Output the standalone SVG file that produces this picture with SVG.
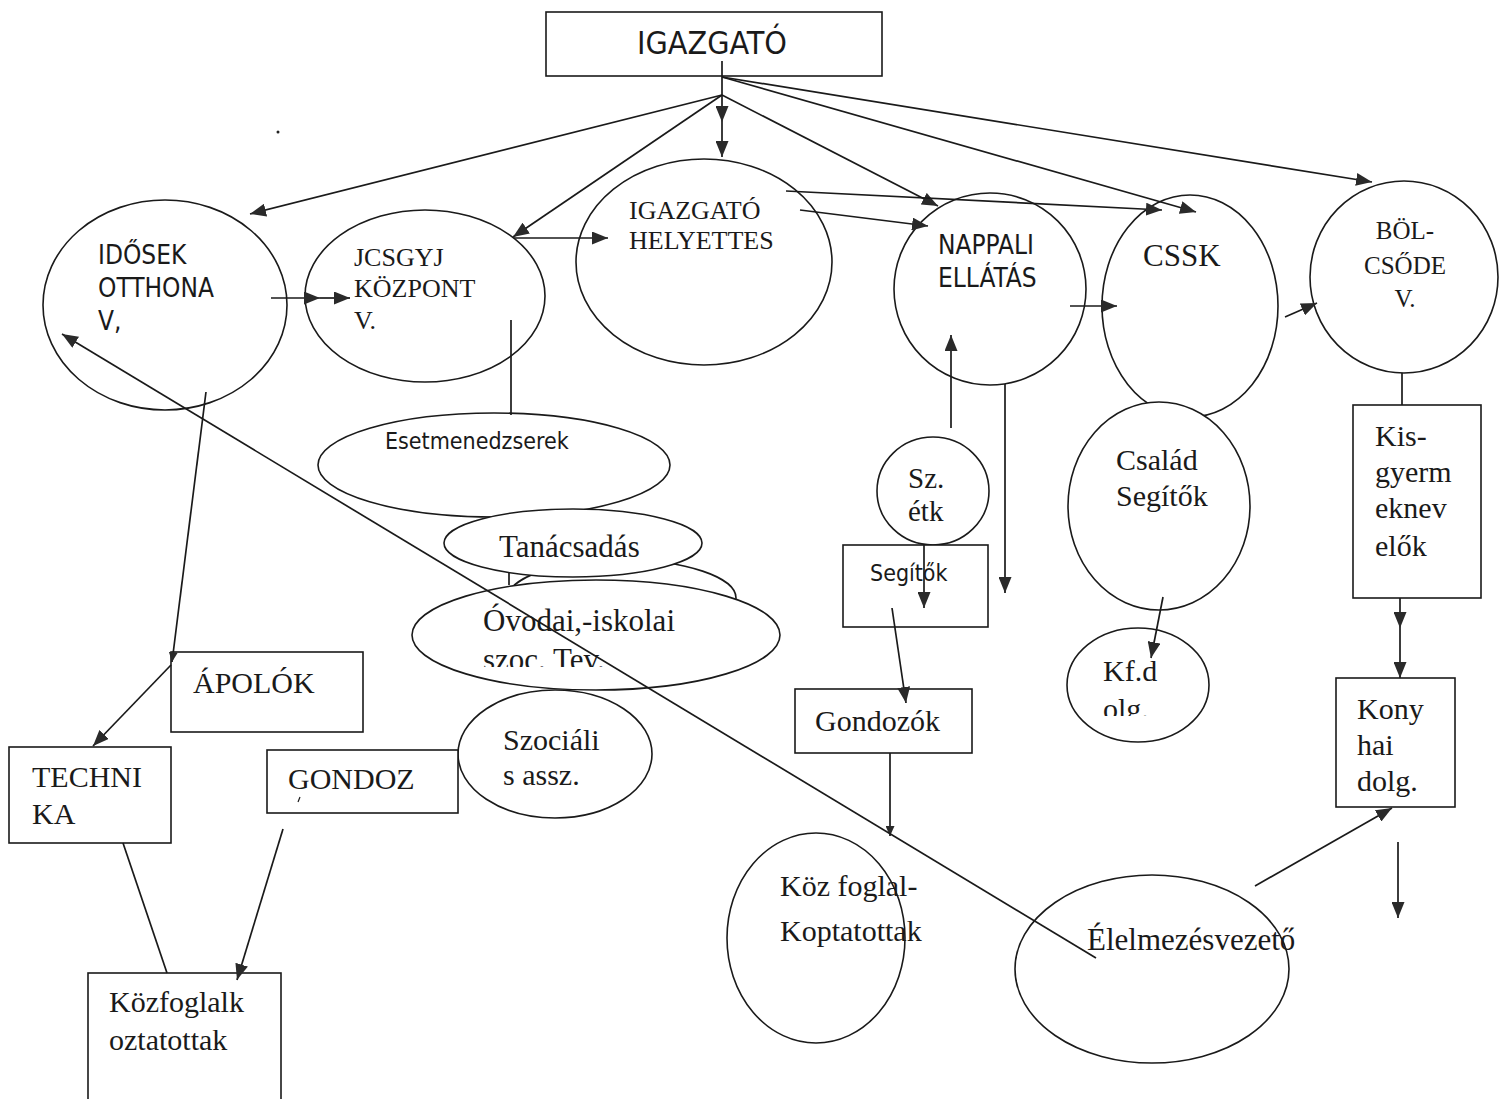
<svg xmlns="http://www.w3.org/2000/svg" width="1499" height="1099" viewBox="0 0 1499 1099">
<style>
.n{fill:#fff;stroke:#1a1a1a;stroke-width:1.6}
.c line{stroke:#1a1a1a;stroke-width:1.7;fill:none}
.a{marker-end:url(#ah)}
.s{marker-end:url(#ahs)}
.sf{font-family:"DejaVu Sans Condensed","DejaVu Sans",sans-serif;font-stretch:condensed;fill:#1a1a1a}
.rf{font-family:"Liberation Serif","Times New Roman",serif;fill:#1a1a1a}
</style>
<defs>
<marker id="ah" markerUnits="userSpaceOnUse" markerWidth="17" markerHeight="13" refX="16" refY="6.5" orient="auto"><path d="M0,0 L16,6.5 L0,13 z" fill="#2a2a2a"/></marker>
<marker id="ahs" markerUnits="userSpaceOnUse" markerWidth="11" markerHeight="9" refX="10" refY="4.5" orient="auto"><path d="M0,0 L10,4.5 L0,9 z" fill="#2a2a2a"/></marker>
<clipPath id="clipOv"><rect x="400" y="570" width="400" height="97"/></clipPath>
<clipPath id="clipKf"><rect x="1060" y="620" width="160" height="96"/></clipPath>
</defs>
<rect width="1499" height="1099" fill="#fff"/>
<circle cx="278" cy="132" r="1.5" fill="#222"/>

<g id="igazgato"><rect class="n" x="546" y="12" width="336" height="64"/><text class="sf" x="637" y="54" font-size="32">IGAZGATÓ</text></g>
<g id="idosek"><ellipse class="n" cx="165" cy="305" rx="122" ry="105"/><text class="sf" font-size="26"><tspan x="98" y="264">IDŐSEK</tspan><tspan x="98" y="297">OTTHONA</tspan><tspan x="98" y="330">V,</tspan></text></g>
<g id="jcsgyj"><ellipse class="n" cx="425" cy="296" rx="120" ry="86"/><text class="rf" font-size="26"><tspan x="354" y="266">JCSGYJ</tspan><tspan x="354" y="297">KÖZPONT</tspan><tspan x="354" y="329">V.</tspan></text></g>
<g id="helyettes"><ellipse class="n" cx="704" cy="262" rx="128" ry="103"/><text class="rf" font-size="26"><tspan x="629" y="219">IGAZGATÓ</tspan><tspan x="629" y="249">HELYETTES</tspan></text></g>
<g id="nappali"><ellipse class="n" cx="990" cy="289" rx="96" ry="96"/><text class="sf" font-size="26"><tspan x="938" y="254">NAPPALI</tspan><tspan x="938" y="287">ELLÁTÁS</tspan></text></g>
<g id="cssk"><ellipse class="n" cx="1190" cy="306" rx="88" ry="111"/><text class="rf" x="1143" y="266" font-size="31">CSSK</text></g>
<g id="bolcsode"><ellipse class="n" cx="1404" cy="277" rx="94" ry="96"/><text class="rf" font-size="25" text-anchor="middle"><tspan x="1405" y="239">BÖL-</tspan><tspan x="1405" y="274">CSŐDE</tspan><tspan x="1405" y="307">V.</tspan></text></g>
<g id="csalad"><ellipse class="n" cx="1159" cy="506" rx="91" ry="104"/><text class="rf" font-size="30"><tspan x="1116" y="470">Család</tspan><tspan x="1116" y="506">Segítők</tspan></text></g>
<g id="kfd"><ellipse class="n" cx="1138" cy="685" rx="71" ry="57"/><text class="rf" font-size="30" clip-path="url(#clipKf)"><tspan x="1103" y="681">Kf.d</tspan><tspan x="1103" y="719">olg.</tspan></text></g>
<g id="szetk"><ellipse class="n" cx="933" cy="491" rx="56" ry="54"/><text class="rf" font-size="29"><tspan x="908" y="488">Sz.</tspan><tspan x="908" y="521">étk</tspan></text></g>
<g id="segitok"><rect class="n" x="843" y="545" width="145" height="82"/><text class="sf" x="870" y="581" font-size="23">Segítők</text></g>
<g id="esetmenedzserek"><ellipse class="n" cx="494" cy="465" rx="176" ry="52"/><text class="sf" x="385" y="449" font-size="23">Esetmenedzserek</text></g>
<g id="rejtett"><ellipse class="n" cx="622" cy="598" rx="114" ry="38"/></g>
<g id="tanacsadas"><ellipse class="n" cx="573" cy="543" rx="129" ry="34"/><text class="rf" x="499" y="557" font-size="31">Tanácsadás</text></g>
<g id="ovodai"><ellipse class="n" cx="596" cy="635" rx="184" ry="55"/><text class="rf" font-size="31" clip-path="url(#clipOv)"><tspan x="483" y="631">Óvodai,-iskolai</tspan><tspan x="483" y="670">szoc. Tev.</tspan></text></g>
<g id="szocialis"><ellipse class="n" cx="555" cy="754" rx="97" ry="64"/><text class="rf" font-size="30"><tspan x="503" y="750">Szociáli</tspan><tspan x="503" y="785">s assz.</tspan></text></g>
<g id="gondozok"><rect class="n" x="795" y="689" width="177" height="64"/><text class="rf" x="815" y="731" font-size="30">Gondozók</text></g>
<g id="kozfoglal"><ellipse class="n" cx="816" cy="938" rx="89" ry="105"/><text class="rf" font-size="30"><tspan x="780" y="896">Köz foglal-</tspan><tspan x="780" y="941">Koptatottak</tspan></text></g>
<g id="elelmezes"><ellipse class="n" cx="1152" cy="969" rx="137" ry="94"/><text class="rf" x="1087" y="950" font-size="31">Élelmezésvezető</text></g>
<g id="kisgyermek"><rect class="n" x="1353" y="405" width="128" height="193"/><text class="rf" font-size="30"><tspan x="1375" y="446">Kis-</tspan><tspan x="1375" y="482">gyerm</tspan><tspan x="1375" y="518">eknev</tspan><tspan x="1375" y="556">elők</tspan></text></g>
<g id="konyhai"><rect class="n" x="1336" y="678" width="119" height="129"/><text class="rf" font-size="30"><tspan x="1357" y="719">Kony</tspan><tspan x="1357" y="755">hai</tspan><tspan x="1357" y="791">dolg.</tspan></text></g>
<g id="apolok"><rect class="n" x="171" y="652" width="192" height="80"/><text class="rf" x="193" y="693" font-size="30">ÁPOLÓK</text></g>
<g id="technika"><rect class="n" x="9" y="747" width="162" height="96"/><text class="rf" font-size="30"><tspan x="32" y="787">TECHNI</tspan><tspan x="32" y="824">KA</tspan></text></g>
<g id="gondoz"><rect class="n" x="267" y="750" width="191" height="63"/><text class="rf" x="288" y="789" font-size="30">GONDOZ</text><line x1="300" y1="797" x2="298" y2="802" stroke="#1a1a1a" stroke-width="1.2"/></g>
<g id="kozfoglalkoztatottak"><rect class="n" x="88" y="973" width="193" height="140"/><text class="rf" font-size="30"><tspan x="109" y="1012">Közfoglalk</tspan><tspan x="109" y="1050">oztatottak</tspan></text></g>

<g id="connectors" class="c">
<line class="a" x1="722" y1="61" x2="722" y2="122"/>
<line class="a" x1="722" y1="122" x2="722" y2="157"/>
<line class="a" x1="722" y1="95" x2="250" y2="214"/>
<line class="a" x1="722" y1="95" x2="513" y2="237"/>
<line class="a" x1="722" y1="95" x2="938" y2="206"/>
<line class="a" x1="722" y1="77" x2="1196" y2="212"/>
<line class="a" x1="722" y1="77" x2="1372" y2="182"/>
<line class="a" x1="514" y1="238" x2="608" y2="238"/>
<line class="a" x1="786" y1="191" x2="1162" y2="210"/>
<line class="a" x1="800" y1="210" x2="928" y2="226"/>
<line class="a" x1="271" y1="298" x2="320" y2="298"/>
<line class="a" x1="320" y1="298" x2="350" y2="298"/>
<line x1="511" y1="320" x2="511" y2="415"/>
<line class="a" x1="1070" y1="306" x2="1117" y2="306"/>
<line class="a" x1="1285" y1="317" x2="1317" y2="303"/>
<line x1="1402" y1="373" x2="1402" y2="405"/>
<line class="a" x1="1400" y1="598" x2="1400" y2="628"/>
<line class="a" x1="1400" y1="628" x2="1400" y2="678"/>
<line class="a" x1="1255" y1="886" x2="1392" y2="808"/>
<line class="a" x1="1398" y1="842" x2="1398" y2="918"/>
<line class="a" x1="951" y1="428" x2="951" y2="335"/>
<line class="a" x1="1005" y1="384" x2="1005" y2="593"/>
<line class="a" x1="924" y1="545" x2="924" y2="608"/>
<line class="a" x1="892" y1="608" x2="906" y2="703"/>
<line class="s" x1="890" y1="753" x2="890" y2="836"/>
<line class="a" x1="1163" y1="597" x2="1151" y2="658"/>
<line class="a" x1="1096" y1="958" x2="62" y2="334"/>
<line class="s" x1="206" y1="392" x2="172" y2="662"/>
<line class="a" x1="171" y1="665" x2="93" y2="746"/>
<line x1="123" y1="843" x2="167" y2="973"/>
<line class="a" x1="283" y1="829" x2="237" y2="980"/>
<line x1="509" y1="573" x2="509" y2="585"/>
</g>
</svg>
